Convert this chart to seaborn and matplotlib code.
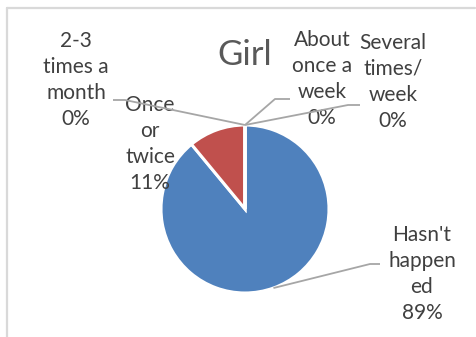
import matplotlib
matplotlib.use("Agg")
import matplotlib.pyplot as plt
import seaborn as sns
import numpy as np

# Survey responses for girls
categories = ["Hasn't happened", "Once or twice", "2-3 times a month",
              "About once a week", "Several times/week"]
values = [89, 11, 0, 0, 0]
label_text = ["Hasn't\nhappen\ned", "Once\nor\ntwice", "2-3\ntimes a\nmonth",
              "About\nonce a\nweek", "Several\ntimes/\nweek"]
colors = ["#4F81BD", "#C0504D", "#9BBB59", "#8064A2", "#4BACC6"]
title = "Girl"

sns.set_theme(style="white")
plt.rcParams["font.family"] = ["Lato", "DejaVu Sans"]

W, H = 477, 337
fig = plt.figure(figsize=(W / 100, H / 100), dpi=100)
ax = fig.add_axes([0, 0, 1, 1])

# pie geometry in pixels
cx, cy, r = 245.0, 209.0, 84.0


def px(x, y):
    """pixel position (from top-left) to data coordinates of the unit pie"""
    return (x - cx) / r, (cy - y) / r


wedges, _ = ax.pie(values, colors=colors, startangle=90, counterclock=False,
                   radius=1.0, center=(0, 0),
                   wedgeprops=dict(edgecolor="white", linewidth=2.2))

ax.set_xlim(-cx / r, (W - cx) / r)
ax.set_ylim((cy - H) / r, cy / r)
ax.set_aspect("equal")
ax.axis("off")

total = sum(values)
text_color = "#404040"
line_color = "#a6a6a6"

# label centres and leader-line elbows, in pixels
label_pos = [(422, 274), (150, 144), (76, 80), (322, 79), (393, 82)]
elbows = [[(370, 264), (380, 264)],
          None,
          [(125, 100), (113, 100)],
          [(275, 99), (290, 99)],
          [(348, 105), (360, 105)]]

for i, w in enumerate(wedges):
    pct = f"{values[i] / total * 100:.0f}%"
    tx, ty = px(*label_pos[i])
    ax.text(tx, ty, f"{label_text[i]}\n{pct}", ha="center", va="center",
            fontsize=15, color=text_color, linespacing=1.38, zorder=2)
    if elbows[i] is not None:
        mid = np.deg2rad((w.theta1 + w.theta2) / 2)
        pts = [(np.cos(mid), np.sin(mid))] + [px(*p) for p in elbows[i]]
        xs, ys = zip(*pts)
        ax.plot(xs, ys, color=line_color, lw=1.3, solid_capstyle="butt",
                zorder=3)

tx, ty = px(245, 55)
ax.text(tx, ty, title, ha="center", va="center", fontsize=25,
        color="#595959")

# chart frame
fig.add_artist(plt.Line2D([7 / W, 7 / W], [0, 1 - 7.5 / H],
                          transform=fig.transFigure, color="#d9d9d9", lw=1.6))
fig.add_artist(plt.Line2D([7 / W, 475 / W], [1 - 7.5 / H, 1 - 7.5 / H],
                          transform=fig.transFigure, color="#d9d9d9", lw=1.6))

fig.savefig("out.png", dpi=100, facecolor="white")
